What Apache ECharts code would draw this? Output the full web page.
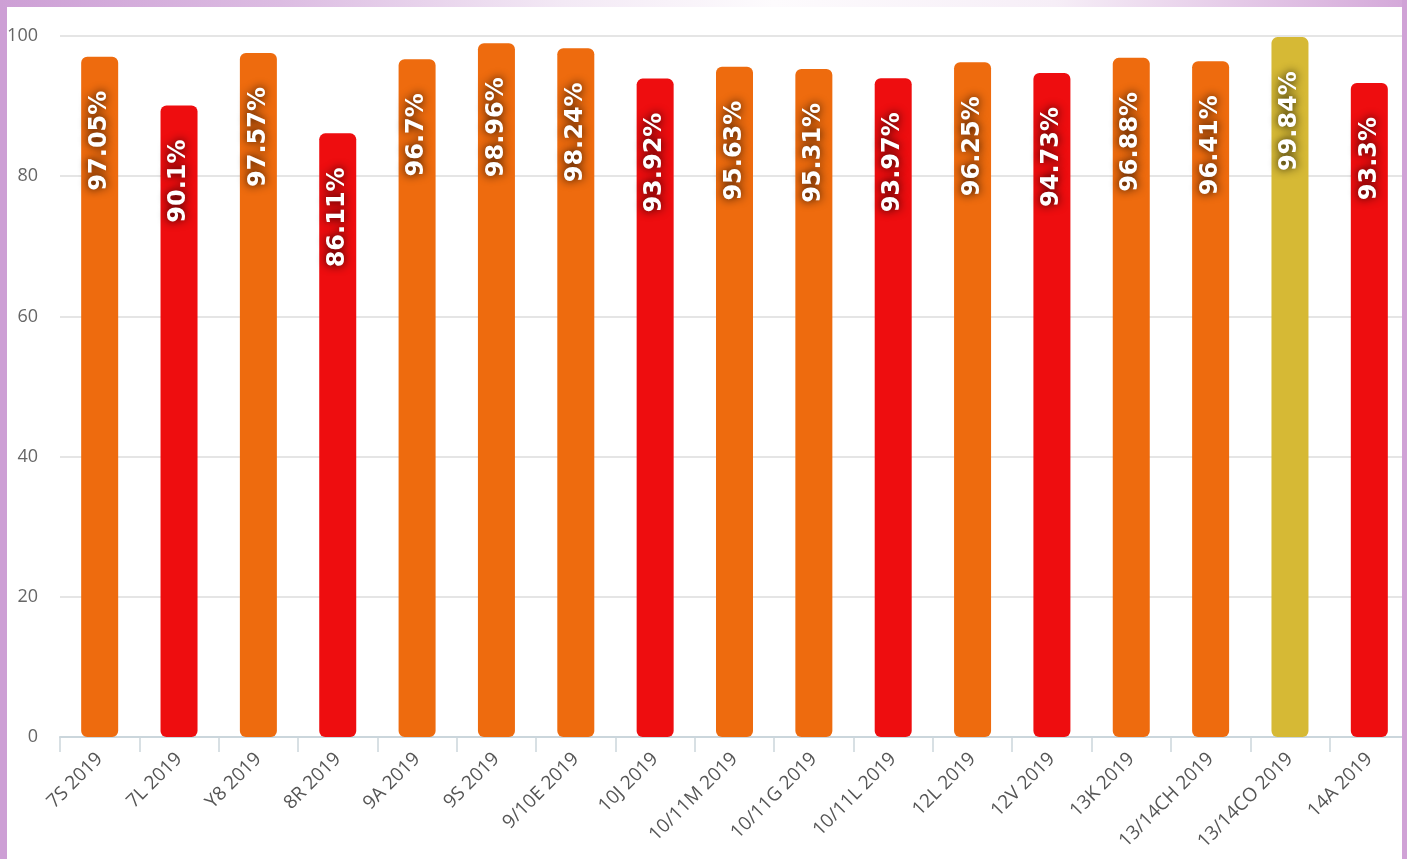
<!DOCTYPE html>
<html>
<head>
<meta charset="utf-8">
<script src="https://cdn.jsdelivr.net/npm/echarts@6/dist/echarts.min.js"></script>
<style>
  html, body { margin: 0; padding: 0; background: #fff; overflow: hidden; }
  #wrap { position: relative; width: 1407px; height: 859px; overflow: hidden; background: #fff; }
  #chart { position: absolute; left: 0; top: 0; width: 1412px; height: 859px; }
  .frame { position: absolute; z-index: 5; }
  #frame-left { left: 0; top: 0; width: 7px; height: 859px; background: #cd9fd5; }
  #frame-right { right: 0; top: 0; width: 5px; height: 859px; background: #d0a2d6; }
  #frame-top { left: 0; top: 0; width: 1407px; height: 7px;
    background: linear-gradient(to right, #cd9fd5 0%, #dcbce2 20%, #f3e9f5 40%, #fdfbfd 55%, #f6eef7 75%, #d4a8d9 100%); }
</style>
</head>
<body>
<div id="wrap">
  <div id="chart"></div>
  <div class="frame" id="frame-left"></div>
  <div class="frame" id="frame-top"></div>
  <div class="frame" id="frame-right"></div>
</div>
<script>
const categories = [
  "7S 2019", "7L 2019", "Y8 2019", "8R 2019", "9A 2019", "9S 2019",
  "9/10E 2019", "10J 2019", "10/11M 2019", "10/11G 2019", "10/11L 2019",
  "12L 2019", "12V 2019", "13K 2019", "13/14CH 2019", "13/14CO 2019", "14A 2019"
];
const values = [
  97.05, 90.1, 97.57, 86.11, 96.7, 98.96, 98.24, 93.92, 95.63,
  95.31, 93.97, 96.25, 94.73, 96.88, 96.41, 99.84, 93.3
];
const yTicks = [0, 20, 40, 60, 80, 100];

// colour band by value
const barColor = (v) => {
  if (v >= 99) return "#d6b935";
  if (v >= 95) return "#ee6b0e";
  return "#ee0d0f";
};

const chart = echarts.init(document.getElementById("chart"));

const option = {
  animation: false,
  grid: {
    left: 60,
    right: 3,
    top: 36,
    bottom: 122,
  },
  xAxis: {
    type: "category",
    data: categories,
    axisLine: { lineStyle: { color: "#cbd6dc", width: 2 } },
    axisTick: { show: true, length: 15, lineStyle: { color: "#cbd6dc", width: 1.5 } },
    axisLabel: {
      rotate: 45,
      interval: 0,
      color: "#555",
      fontFamily: "Open Sans",
      fontSize: 19,
      margin: 19,
    },
  },
  yAxis: {
    type: "value",
    min: 0,
    max: 100,
    interval: 20,
    axisLine: { show: false },
    axisTick: { show: false },
    axisLabel: {
      color: "#666",
      fontFamily: "Open Sans",
      fontSize: 18,
      margin: 22,
      formatter: (v) => (yTicks.includes(v) ? String(v) : ""),
    },
    splitLine: { lineStyle: { color: "#dcdcdc", width: 1.5 } },
  },
  series: [
    {
      type: "bar",
      barWidth: 37,
      data: values.map((v) => ({
        value: v,
        itemStyle: { color: barColor(v) },
      })),
      itemStyle: {
        borderRadius: [6, 6, 6, 6],
      },
      label: {
        show: true,
        position: "insideTop",
        distance: 34,
        rotate: 90,
        align: "right",
        verticalAlign: "middle",
        formatter: (p) => p.value + "%",
        color: "#fff",
        fontFamily: "DejaVu Sans",
        fontWeight: "bold",
        fontSize: 24,
        textShadowColor: "rgba(0,0,0,0.95)",
        textShadowBlur: 10,
        textShadowOffsetX: 0,
        textShadowOffsetY: 0,
      },
    },
  ],
};

chart.setOption(option);
</script>
</body>
</html>
